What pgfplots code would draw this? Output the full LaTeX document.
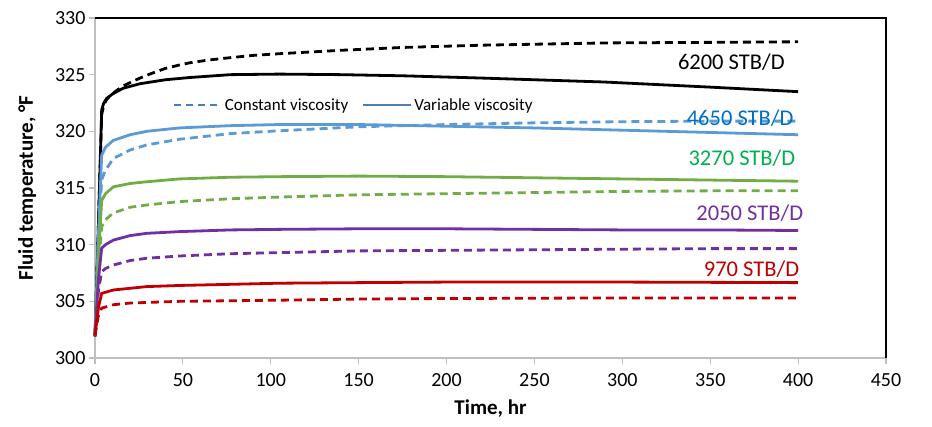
\documentclass[border=0pt]{standalone}
\usepackage{pgfplots}
\pgfplotsset{compat=1.18}
\usepackage{fontspec}
\setmainfont{Carlito}
\definecolor{cblue}{HTML}{5B9BD5}
\definecolor{cgreen}{HTML}{70AD47}
\definecolor{cpurple}{HTML}{7030A0}
\definecolor{cred}{HTML}{C00000}
\definecolor{lblue}{HTML}{0070C0}
\definecolor{lgreen}{HTML}{00B050}
\definecolor{leg}{HTML}{4A7EBB}
\definecolor{axgray}{HTML}{BFBFBF}
\begin{document}
\begin{tikzpicture}
\begin{axis}[
  width=791pt, height=340pt, scale only axis,
  xmin=0, xmax=450, ymin=300, ymax=330,
  xtick={0,50,...,450}, ytick={300,305,...,330},
  axis x line*=bottom, axis y line*=left,
  axis line style={draw=axgray, line width=1.2pt, -},
  tick style={draw=axgray, line width=1.2pt},
  tick align=outside, major tick length=6pt,
  /pgf/number format/assume math mode=true,
  ticklabel style={font=\fontsize{20}{22}\selectfont, text=black},
  xticklabel style={yshift=-6pt},
  xlabel={\textbf{Time, hr}}, ylabel={\textbf{Fluid temperature, °F}},
  label style={font=\fontsize{21}{24}\selectfont},
  xlabel style={yshift=-6pt},
  ylabel style={yshift=12pt},
  legend columns=2,
  legend style={draw=none, fill=none, at={(0.327,0.744)}, anchor=center,
    font=\fontsize{17}{19}\selectfont, /tikz/every even column/.append style={column sep=12pt}},
  legend image code/.code={\draw[#1] (0pt,0pt) -- (48pt,0pt);},
  every axis plot/.append style={line width=2.8pt},
  clip=false,
]
\coordinate (ll) at (rel axis cs:0,0);
\coordinate (ur) at (rel axis cs:1,1);
\draw[black, line width=1.5pt] (rel axis cs:0,1) -- (rel axis cs:1,1) -- (rel axis cs:1,0);
\addlegendimage{leg, line width=2pt, dash pattern=on 7pt off 5pt}
\addlegendentry{Constant viscosity}
\addlegendimage{leg, line width=2pt}
\addlegendentry{Variable viscosity}
% 6200 constant (dashed)
\addplot[black, dash pattern=on 8pt off 5pt] coordinates {(0,301.9)(2,312)(3.8,321.5)(5,322.3)(6.6,322.8)(9,323.2)(12.3,323.6)(16,324.0)(20,324.3)(25.6,324.7)(32,325.1)(40,325.55)(48,325.85)(54,326.05)(65,326.3)(77,326.5)(90,326.7)(105,326.85)(140,327.15)(175,327.4)(220,327.6)(290,327.8)(350,327.85)(400,327.9)};
% 6200 variable
\addplot[black] coordinates {(0,301.9)(2,312)(3.8,321.9)(5,322.5)(6.6,322.9)(10,323.3)(16,323.8)(25.6,324.2)(40,324.55)(54,324.75)(77,325.0)(105,325.05)(140,325.0)(175,324.9)(220,324.7)(290,324.35)(350,323.9)(400,323.5)};
% 4650 constant
\addplot[cblue, dash pattern=on 8pt off 5pt] coordinates {(0,302)(2,310.5)(3.8,315.7)(5.7,316.5)(10.4,317.6)(19.9,318.35)(29.4,318.8)(48,319.3)(77,319.8)(105,320.05)(150,320.4)(200,320.6)(250,320.75)(300,320.85)(350,320.9)(400,320.9)};
% 4650 variable
\addplot[cblue] coordinates {(0,302)(2,311)(3.8,317.9)(6,318.6)(10.4,319.2)(20,319.7)(29.4,320.0)(48,320.3)(77,320.5)(105,320.6)(150,320.6)(200,320.45)(250,320.3)(300,320.1)(350,319.9)(400,319.7)};
% 3270 constant
\addplot[cgreen, dash pattern=on 8pt off 5pt] coordinates {(0,302)(2,308)(3.8,311.6)(6,312.2)(10.4,312.8)(20,313.3)(29.4,313.5)(48,313.8)(77,314.05)(105,314.2)(150,314.4)(200,314.5)(250,314.6)(300,314.7)(350,314.75)(400,314.75)};
% 3270 variable
\addplot[cgreen] coordinates {(0,302)(2,309)(3.8,313.9)(6,314.5)(10.4,315.1)(20,315.4)(29.4,315.55)(48,315.8)(77,315.95)(105,316.0)(150,316.05)(200,316.0)(250,315.9)(300,315.8)(350,315.7)(400,315.6)};
% 2050 constant
\addplot[cpurple, dash pattern=on 8pt off 5pt] coordinates {(0,302)(2,306)(3.8,307.6)(6,307.9)(10.4,308.2)(20,308.6)(29.4,308.8)(48,309.0)(77,309.2)(105,309.3)(150,309.45)(200,309.5)(250,309.55)(300,309.6)(350,309.65)(400,309.65)};
% 2050 variable
\addplot[cpurple] coordinates {(0,302)(2,307)(3.8,309.7)(6,310.0)(10.4,310.4)(20,310.8)(29.4,311.0)(48,311.15)(77,311.3)(105,311.35)(150,311.4)(200,311.4)(250,311.35)(300,311.3)(350,311.3)(400,311.25)};
% 970 constant
\addplot[cred, dash pattern=on 8pt off 5pt] coordinates {(0,302)(2,303.8)(3.8,304.4)(6,304.5)(10.4,304.7)(20,304.85)(29.4,304.9)(48,305.0)(77,305.05)(105,305.1)(150,305.2)(200,305.25)(300,305.3)(400,305.3)};
% 970 variable
\addplot[cred] coordinates {(0,302)(2,304.5)(3.8,305.7)(6,305.8)(10.4,306.0)(20,306.15)(29.4,306.3)(48,306.4)(77,306.5)(105,306.6)(150,306.65)(200,306.7)(300,306.7)(400,306.65)};
\node[font=\fontsize{22.5}{25}\selectfont, text=black] at (axis cs:362,326.1) {6200 STB/D};
\node[font=\fontsize{22.5}{25}\selectfont, text=lblue] at (axis cs:367,321.2) {4650 STB/D};
\node[font=\fontsize{22.5}{25}\selectfont, text=lgreen] at (axis cs:368,317.6) {3270 STB/D};
\node[font=\fontsize{22.5}{25}\selectfont, text=cpurple] at (axis cs:372.5,312.8) {2050 STB/D};
\node[font=\fontsize{22.5}{25}\selectfont, text=cred] at (axis cs:373.5,307.8) {970 STB/D};
\end{axis}
\pgfresetboundingbox
\path ([xshift=-95pt,yshift=-69pt]ll) rectangle ([xshift=46pt,yshift=18pt]ur);
\end{tikzpicture}
\end{document}
